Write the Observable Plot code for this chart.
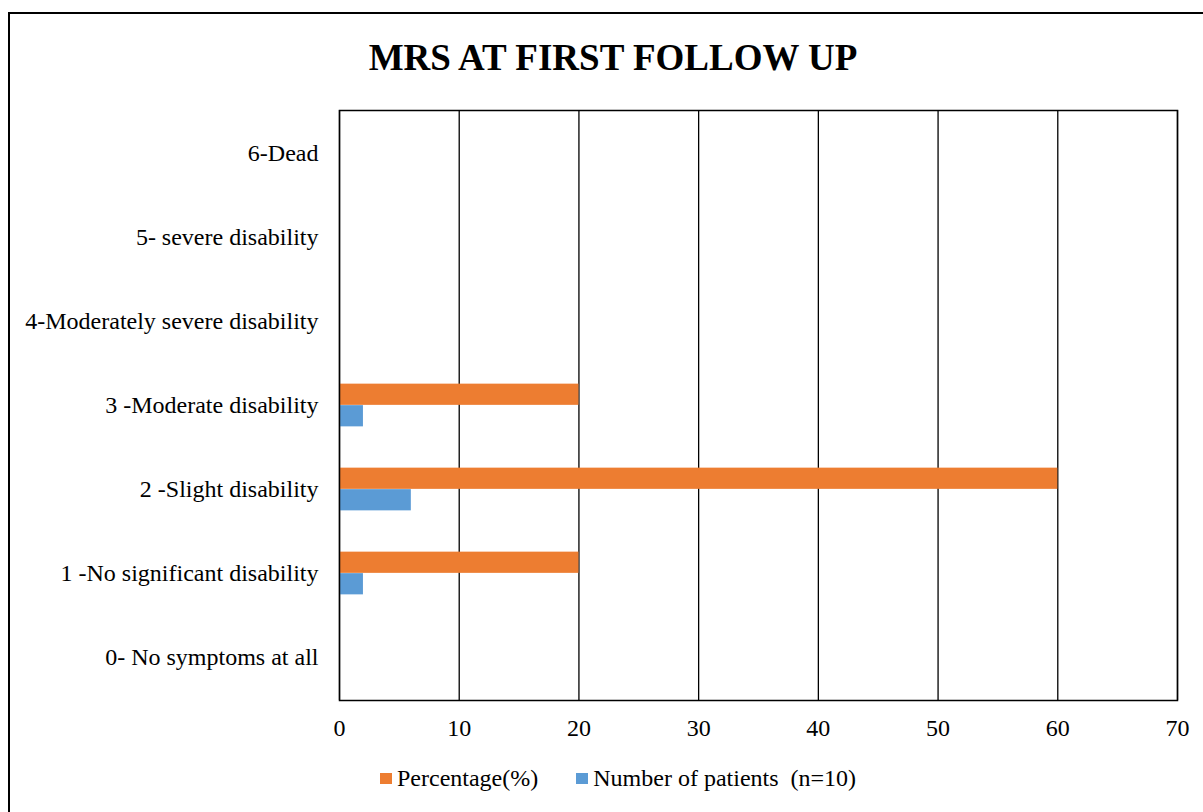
<!DOCTYPE html>
<html>
<head>
<meta charset="utf-8">
<script src="https://cdn.jsdelivr.net/npm/d3@7"></script>
<script src="https://cdn.jsdelivr.net/npm/@observablehq/plot@0.6"></script>
<style>
  html, body { margin: 0; padding: 0; width: 1203px; height: 812px; overflow: hidden; background: #fff; }
  body { position: relative; font-family: "Liberation Serif", "Times New Roman", serif; color: #000; }
  #frame { position: absolute; left: 8px; top: 12px; width: 1400px; height: 1000px; border: 2px solid #000; box-sizing: border-box; }
  #title { position: absolute; left: 0; width: 1226px; top: 36px; text-align: center; font-weight: bold; font-size: 37px; line-height: 44px; }
  #chart { position: absolute; left: 0; top: 100px; }
  #chart svg, #chart svg text { font-family: "Liberation Serif", "Times New Roman", serif !important; font-size: 24px !important; fill: #000; }
  #chart svg g[aria-label="bar"] rect { }
  #legend { position: absolute; top: 764px; left: 380px; font-size: 24px; line-height: 28px; display: flex; align-items: center; white-space: pre; }
  .sw { display: inline-block; width: 12px; height: 11px; margin-right: 5px; }
  .item { display: flex; align-items: center; margin-right: 38px; }
</style>
</head>
<body>
<div id="frame"></div>
<div id="title">MRS AT FIRST FOLLOW UP</div>
<div id="chart"></div>
<div id="legend"></div>
<script>
const categories = [
  "6-Dead",
  "5- severe disability",
  "4-Moderately severe disability",
  "3 -Moderate disability",
  "2 -Slight disability",
  "1 -No significant disability",
  "0- No symptoms at all"
];
const percentage = [0, 0, 0, 20, 60, 20, 0];
const patients = [0, 0, 0, 2, 6, 2, 0];
const seriesNames = ["Percentage(%)", "Number of patients  (n=10)"];
const colors = ["#ED7D31", "#5B9BD5"];
const xTicks = [0, 10, 20, 30, 40, 50, 60, 70];

const pctData = categories.map((c, i) => ({category: c, value: percentage[i]}));
const numData = categories.map((c, i) => ({category: c, value: patients[i]}));

const height = 660, marginTop = 10, marginBottom = 60;
const band = (height - marginTop - marginBottom) / categories.length;
const barH = 21.5;

const chart = Plot.plot({
  width: 1203,
  height,
  marginLeft: 339,
  marginRight: 26,
  marginTop,
  marginBottom,
  style: 'font-family: "Liberation Serif", "Times New Roman", serif; font-size: 24px; color: #000; background: transparent;',
  x: {domain: [0, 70], ticks: xTicks, tickSize: 0, tickPadding: 18, label: null},
  y: {domain: categories, padding: 0, tickSize: 0, tickPadding: 21, label: null},
  marks: [
    Plot.ruleX(xTicks, {stroke: "#000", strokeWidth: 1.3}),
    Plot.barX(pctData, {x: "value", y: "category", fill: colors[0], insetTop: band / 2 - barH, insetBottom: band / 2}),
    Plot.barX(numData, {x: "value", y: "category", fill: colors[1], insetTop: band / 2, insetBottom: band / 2 - barH}),
    Plot.frame({stroke: "#000", strokeWidth: 1.5})
  ]
});
document.getElementById("chart").appendChild(chart);

const legend = document.getElementById("legend");
seriesNames.forEach((name, i) => {
  const item = document.createElement("div");
  item.className = "item";
  const sw = document.createElement("span");
  sw.className = "sw";
  sw.style.background = colors[i];
  item.appendChild(sw);
  item.appendChild(document.createTextNode(name));
  legend.appendChild(item);
});
</script>
</body>
</html>
